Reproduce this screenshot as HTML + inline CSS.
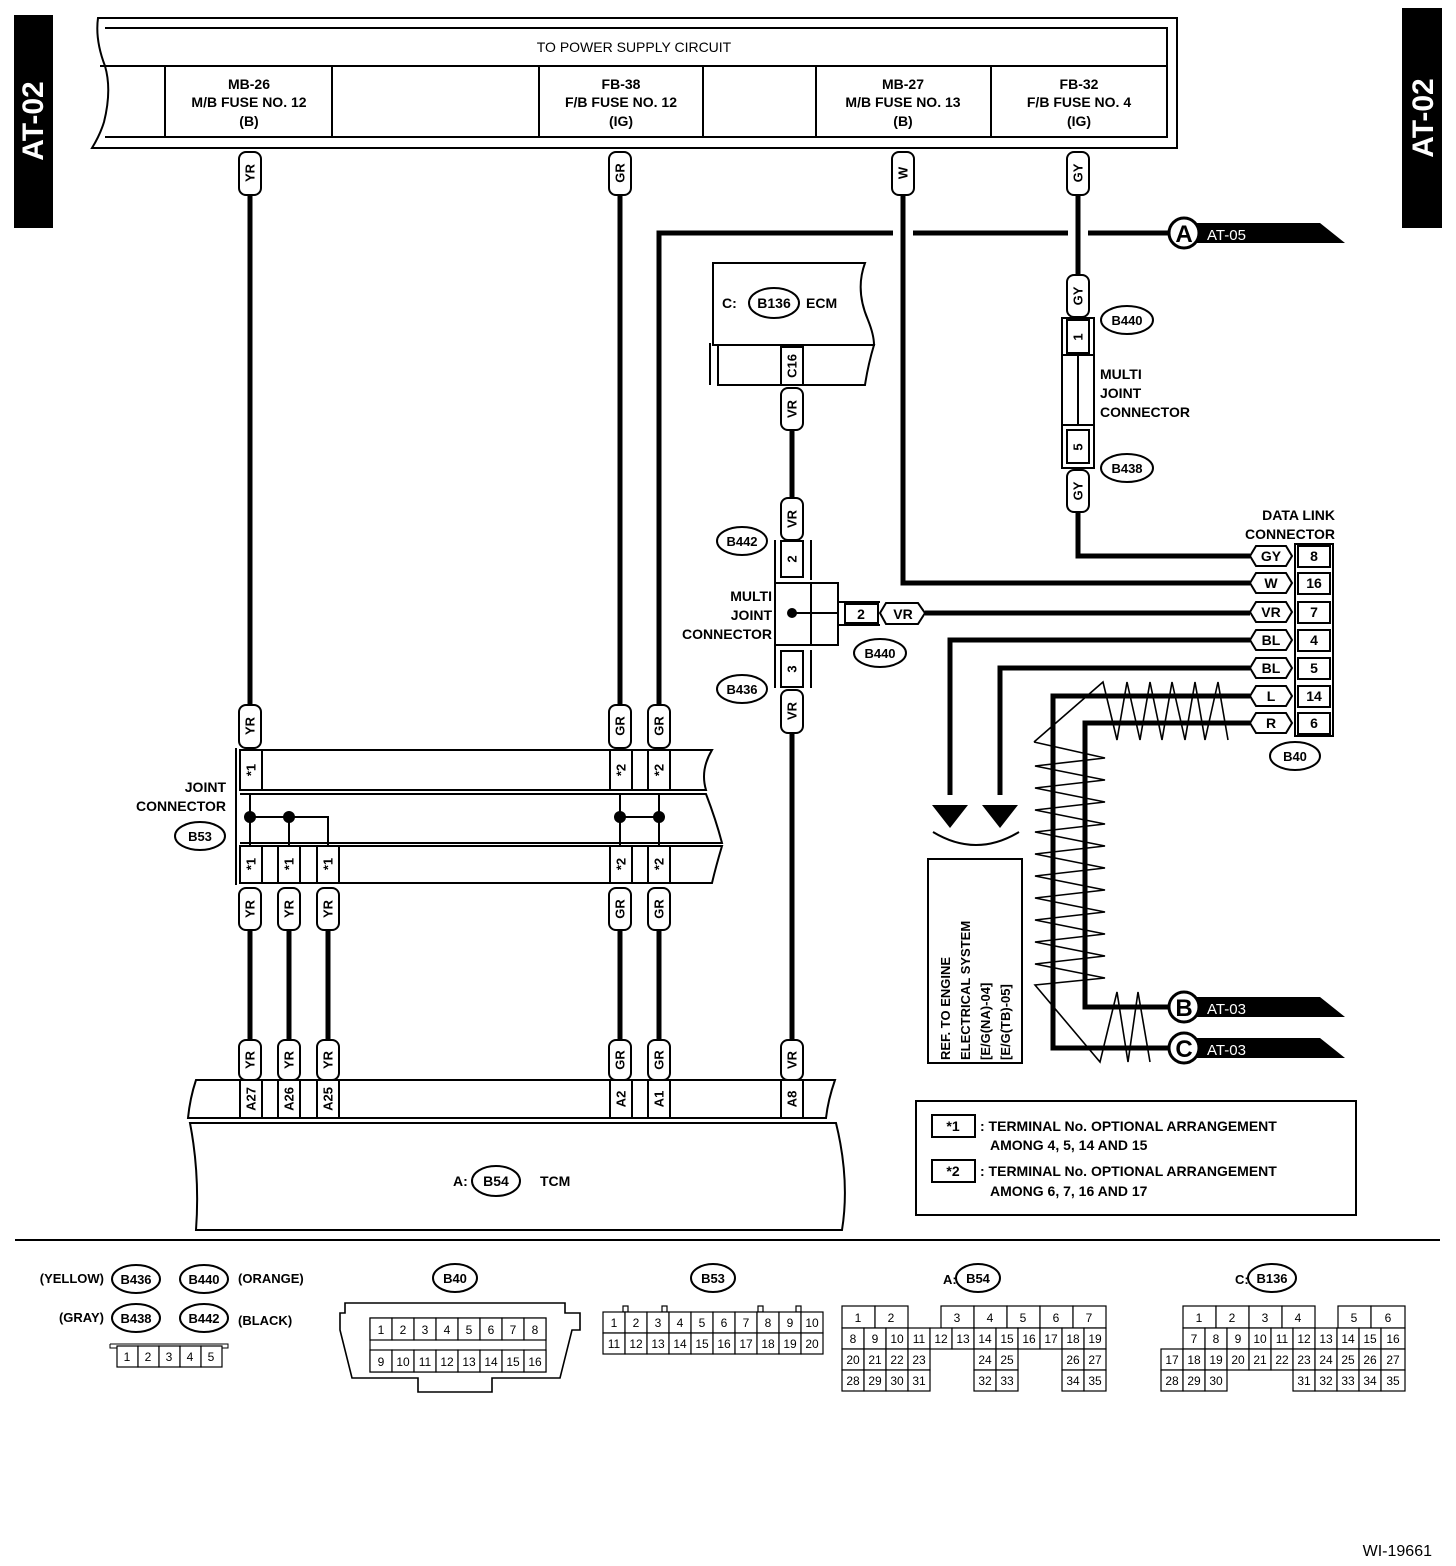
<!DOCTYPE html>
<html><head><meta charset="utf-8"><style>
html,body{margin:0;padding:0;background:#fff}
svg{display:block}
text{font-family:"Liberation Sans",sans-serif;font-weight:bold;fill:#000}
.t{font-size:14px}
.s{font-size:13px}
.c{text-anchor:middle}
.v{text-anchor:middle;dominant-baseline:central;font-size:13px}
.p{fill:#fff;stroke:#000;stroke-width:2}
.w{fill:none;stroke:#000;stroke-width:5}
.l{fill:none;stroke:#000;stroke-width:2}
.th{fill:none;stroke:#000;stroke-width:1.6}
.g rect{fill:#fff;stroke:#000;stroke-width:1.2}
.g text{font-weight:normal;font-size:12px;text-anchor:middle}
</style></head><body>
<svg width="1456" height="1566" viewBox="0 0 1456 1566" xmlns="http://www.w3.org/2000/svg">
<!-- side tabs -->
<rect x="14" y="15" width="39" height="213" fill="#000"/>
<text transform="translate(43,121) rotate(-90)" class="c" style="font-size:30px;fill:#fff">AT-02</text>
<rect x="1402" y="8" width="40" height="220" fill="#000"/>
<text transform="translate(1433,118) rotate(-90)" class="c" style="font-size:30px;fill:#fff">AT-02</text>

<!-- power supply box -->
<path class="l" d="M98,18 H1177 V148 H92 Q100,135 104,122 Q112,90 105,66 Q95,40 98,18 Z"/>
<path class="l" d="M105,28 H1167 V137 H105"/>
<line class="l" x1="100" y1="66" x2="1167" y2="66"/>
<line class="l" x1="165" y1="66" x2="165" y2="137"/>
<line class="l" x1="332" y1="66" x2="332" y2="137"/>
<line class="l" x1="539" y1="66" x2="539" y2="137"/>
<line class="l" x1="703" y1="66" x2="703" y2="137"/>
<line class="l" x1="816" y1="66" x2="816" y2="137"/>
<line class="l" x1="991" y1="66" x2="991" y2="137"/>
<text x="634" y="52" class="t c" style="font-weight:normal">TO POWER SUPPLY CIRCUIT</text>
<text x="249" y="89" class="t c">MB-26</text><text x="249" y="107" class="t c">M/B FUSE NO. 12</text><text x="249" y="126" class="t c">(B)</text>
<text x="621" y="89" class="t c">FB-38</text><text x="621" y="107" class="t c">F/B FUSE NO. 12</text><text x="621" y="126" class="t c">(IG)</text>
<text x="903" y="89" class="t c">MB-27</text><text x="903" y="107" class="t c">M/B FUSE NO. 13</text><text x="903" y="126" class="t c">(B)</text>
<text x="1079" y="89" class="t c">FB-32</text><text x="1079" y="107" class="t c">F/B FUSE NO. 4</text><text x="1079" y="126" class="t c">(IG)</text>

<!-- wires -->
<g class="w">
<path d="M250,195 V705"/>
<path d="M620,195 V705"/>
<path d="M659,705 V233 H893"/>
<path d="M913,233 H1068"/>
<path d="M1088,233 H1170"/>
<path d="M903,195 V583 H1250"/>
<path d="M1078,195 V275"/>
<path d="M1078,512 V556 H1250"/>
<path d="M792,430 V500"/>
<path d="M925,613 H1250"/>
<path d="M792,733 V1040"/>
<path d="M1250,640 H950 V795"/>
<path d="M1250,668 H1000 V795"/>
<path d="M1250,696 H1053 V1048 H1170"/>
<path d="M1250,723 H1085 V1007 H1170"/>
<path d="M250,930 V1040"/><path d="M289,930 V1040"/><path d="M328,930 V1040"/>
<path d="M620,930 V1040"/><path d="M659,930 V1040"/>
</g>
<!-- arrows -->
<polygon points="932,805 968,805 950,828"/>
<polygon points="982,805 1018,805 1000,828"/>
<path class="l" d="M933,832 Q976,858 1019,832"/>
<!-- REF box -->
<rect x="928" y="859" width="94" height="204" class="l"/>
<text transform="translate(950,1060) rotate(-90)" class="s">REF. TO ENGINE</text>
<text transform="translate(970,1060) rotate(-90)" class="s">ELECTRICAL SYSTEM</text>
<text transform="translate(990,1060) rotate(-90)" class="s">[E/G(NA)-04]</text>
<text transform="translate(1010,1060) rotate(-90)" class="s">[E/G(TB)-05]</text>

<!-- twist -->
<polyline class="th" points="1034,742 1103,682 1117,740 1127,682 1140,740 1150,682 1162,740 1172,682 1185,740 1195,682 1205,740 1218,682 1228,740"/>
<polyline class="th" points="1034,742 1105,758 1035,766 1105,780 1035,788 1105,802 1035,810 1105,824 1035,832 1105,846 1035,854 1105,868 1035,876 1105,890 1035,898 1105,912 1035,920 1105,934 1035,942 1105,956 1035,964 1105,978 1035,985 1100,1062 1117,992 1128,1062 1138,992 1150,1062"/>

<!-- A B C markers -->
<g>
<polygon points="1184,223 1320,223 1345,243 1184,243"/>
<circle cx="1184" cy="233" r="15" fill="#fff" stroke="#000" stroke-width="3"/>
<text x="1184" y="242" class="c" style="font-size:24px">A</text>
<text x="1207" y="240" style="font-size:15px;fill:#fff;font-weight:normal">AT-05</text>
<polygon points="1184,997 1320,997 1345,1017 1184,1017"/>
<circle cx="1184" cy="1007" r="15" fill="#fff" stroke="#000" stroke-width="3"/>
<text x="1184" y="1016" class="c" style="font-size:24px">B</text>
<text x="1207" y="1014" style="font-size:15px;fill:#fff;font-weight:normal">AT-03</text>
<polygon points="1184,1038 1320,1038 1345,1058 1184,1058"/>
<circle cx="1184" cy="1048" r="15" fill="#fff" stroke="#000" stroke-width="3"/>
<text x="1184" y="1057" class="c" style="font-size:24px">C</text>
<text x="1207" y="1055" style="font-size:15px;fill:#fff;font-weight:normal">AT-03</text>
</g>

<!-- vertical pills -->
<g>
<rect class="p" x="239" y="152" width="22" height="43" rx="7"/><text class="v" transform="translate(250,173) rotate(-90)">YR</text>
<rect class="p" x="609" y="152" width="22" height="43" rx="7"/><text class="v" transform="translate(620,173) rotate(-90)">GR</text>
<rect class="p" x="892" y="152" width="22" height="43" rx="7"/><text class="v" transform="translate(903,173) rotate(-90)">W</text>
<rect class="p" x="1067" y="152" width="22" height="43" rx="7"/><text class="v" transform="translate(1078,173) rotate(-90)">GY</text>
<rect class="p" x="1067" y="275" width="22" height="42" rx="7"/><text class="v" transform="translate(1078,296) rotate(-90)">GY</text>
<rect class="p" x="1067" y="470" width="22" height="42" rx="7"/><text class="v" transform="translate(1078,491) rotate(-90)">GY</text>
<rect class="p" x="781" y="388" width="22" height="42" rx="7"/><text class="v" transform="translate(792,409) rotate(-90)">VR</text>
<rect class="p" x="781" y="498" width="22" height="42" rx="7"/><text class="v" transform="translate(792,519) rotate(-90)">VR</text>
<rect class="p" x="781" y="690" width="22" height="43" rx="7"/><text class="v" transform="translate(792,711) rotate(-90)">VR</text>
<rect class="p" x="781" y="1040" width="22" height="40" rx="7"/><text class="v" transform="translate(792,1060) rotate(-90)">VR</text>
<rect class="p" x="239" y="705" width="22" height="43" rx="7"/><text class="v" transform="translate(250,726) rotate(-90)">YR</text>
<rect class="p" x="609" y="705" width="22" height="43" rx="7"/><text class="v" transform="translate(620,726) rotate(-90)">GR</text>
<rect class="p" x="648" y="705" width="22" height="43" rx="7"/><text class="v" transform="translate(659,726) rotate(-90)">GR</text>
<rect class="p" x="239" y="888" width="22" height="42" rx="7"/><text class="v" transform="translate(250,909) rotate(-90)">YR</text>
<rect class="p" x="278" y="888" width="22" height="42" rx="7"/><text class="v" transform="translate(289,909) rotate(-90)">YR</text>
<rect class="p" x="317" y="888" width="22" height="42" rx="7"/><text class="v" transform="translate(328,909) rotate(-90)">YR</text>
<rect class="p" x="609" y="888" width="22" height="42" rx="7"/><text class="v" transform="translate(620,909) rotate(-90)">GR</text>
<rect class="p" x="648" y="888" width="22" height="42" rx="7"/><text class="v" transform="translate(659,909) rotate(-90)">GR</text>
<rect class="p" x="239" y="1040" width="22" height="40" rx="7"/><text class="v" transform="translate(250,1060) rotate(-90)">YR</text>
<rect class="p" x="278" y="1040" width="22" height="40" rx="7"/><text class="v" transform="translate(289,1060) rotate(-90)">YR</text>
<rect class="p" x="317" y="1040" width="22" height="40" rx="7"/><text class="v" transform="translate(328,1060) rotate(-90)">YR</text>
<rect class="p" x="609" y="1040" width="22" height="40" rx="7"/><text class="v" transform="translate(620,1060) rotate(-90)">GR</text>
<rect class="p" x="648" y="1040" width="22" height="40" rx="7"/><text class="v" transform="translate(659,1060) rotate(-90)">GR</text>
</g>

<!-- B440/B438 multi joint (GY) -->
<rect class="l" x="1062" y="318" width="32" height="150"/>
<line class="l" x1="1062" y1="355" x2="1094" y2="355"/><line class="l" x1="1062" y1="425" x2="1094" y2="425"/>
<line class="l" x1="1078" y1="355" x2="1078" y2="425"/>
<rect class="p" x="1067" y="320" width="22" height="33"/><text class="v" transform="translate(1078,337) rotate(-90)">1</text>
<rect class="p" x="1067" y="430" width="22" height="33"/><text class="v" transform="translate(1078,447) rotate(-90)">5</text>
<ellipse class="l" cx="1127" cy="320" rx="26" ry="14" style="fill:#fff"/><text x="1127" y="325" class="s c">B440</text>
<ellipse class="l" cx="1127" cy="468" rx="26" ry="14" style="fill:#fff"/><text x="1127" y="473" class="s c">B438</text>
<text x="1100" y="379" class="t">MULTI</text><text x="1100" y="398" class="t">JOINT</text><text x="1100" y="417" class="t">CONNECTOR</text>

<!-- ECM -->
<path class="l" d="M713,263 H865 Q855,290 868,320 Q874,335 874,345 H713 Z"/>
<path class="l" d="M710,343 V385 M718,345 H874 Q868,365 865,385 H718 Z"/>
<rect class="p" x="781" y="347" width="22" height="38"/><text class="v" transform="translate(792,366) rotate(-90)">C16</text>
<text x="722" y="308" class="t">C:</text>
<ellipse class="l" cx="774" cy="303" rx="25" ry="15" style="fill:#fff"/><text x="774" y="308" class="t c">B136</text>
<text x="806" y="308" class="t">ECM</text>

<!-- VR multi joint -->
<path class="l" d="M775,540 V688 M811,540 V580"/>
<path class="l" d="M775,583 H838 V645 H775 M811,583 V645 M792,613 H838"/>
<path class="l" d="M811,650 V688 M838,602 H880 M838,625 H880"/>
<rect class="p" x="781" y="541" width="22" height="36"/><text class="v" transform="translate(792,559) rotate(-90)">2</text>
<rect class="p" x="781" y="651" width="22" height="36"/><text class="v" transform="translate(792,669) rotate(-90)">3</text>
<circle cx="792" cy="613" r="5"/>
<rect class="p" x="845" y="604" width="33" height="19"/><text x="861" y="619" class="t c">2</text>
<path class="p" d="M886,603 H918 L925,613 L918,624 H886 L880,613 Z"/><text x="903" y="619" class="t c">VR</text>
<ellipse class="l" cx="742" cy="541" rx="25" ry="14" style="fill:#fff"/><text x="742" y="546" class="s c">B442</text>
<ellipse class="l" cx="742" cy="689" rx="25" ry="14" style="fill:#fff"/><text x="742" y="694" class="s c">B436</text>
<ellipse class="l" cx="880" cy="653" rx="26" ry="14" style="fill:#fff"/><text x="880" y="658" class="s c">B440</text>
<text x="772" y="601" class="t" text-anchor="end">MULTI</text><text x="772" y="620" class="t" text-anchor="end">JOINT</text><text x="772" y="639" class="t" text-anchor="end">CONNECTOR</text>

<!-- Data link connector -->
<text x="1335" y="520" class="t" text-anchor="end">DATA LINK</text>
<text x="1335" y="539" class="t" text-anchor="end">CONNECTOR</text>
<g>
<path class="p" d="M1256,546 H1286 L1292,556 L1286,566 H1256 L1250,556 Z"/><text x="1271" y="561" class="t c">GY</text>
<path class="p" d="M1256,573 H1286 L1292,583 L1286,593 H1256 L1250,583 Z"/><text x="1271" y="588" class="t c">W</text>
<path class="p" d="M1256,602 H1286 L1292,612 L1286,622 H1256 L1250,612 Z"/><text x="1271" y="617" class="t c">VR</text>
<path class="p" d="M1256,630 H1286 L1292,640 L1286,650 H1256 L1250,640 Z"/><text x="1271" y="645" class="t c">BL</text>
<path class="p" d="M1256,658 H1286 L1292,668 L1286,678 H1256 L1250,668 Z"/><text x="1271" y="673" class="t c">BL</text>
<path class="p" d="M1256,686 H1286 L1292,696 L1286,706 H1256 L1250,696 Z"/><text x="1271" y="701" class="t c">L</text>
<path class="p" d="M1256,713 H1286 L1292,723 L1286,733 H1256 L1250,723 Z"/><text x="1271" y="728" class="t c">R</text>
<rect class="l" x="1295" y="544" width="38" height="192"/>
<rect class="p" x="1298" y="546" width="32" height="21"/><text x="1314" y="561" class="t c">8</text>
<rect class="p" x="1298" y="573" width="32" height="21"/><text x="1314" y="588" class="t c">16</text>
<rect class="p" x="1298" y="602" width="32" height="21"/><text x="1314" y="617" class="t c">7</text>
<rect class="p" x="1298" y="630" width="32" height="21"/><text x="1314" y="645" class="t c">4</text>
<rect class="p" x="1298" y="658" width="32" height="21"/><text x="1314" y="673" class="t c">5</text>
<rect class="p" x="1298" y="686" width="32" height="21"/><text x="1314" y="701" class="t c">14</text>
<rect class="p" x="1298" y="713" width="32" height="21"/><text x="1314" y="728" class="t c">6</text>
</g>
<ellipse class="l" cx="1295" cy="756" rx="25" ry="14" style="fill:#fff"/><text x="1295" y="761" class="s c">B40</text>

<!-- Joint connector B53 -->
<path class="l" d="M236,748 V885"/>
<path class="l" d="M240,750 H712 Q700,770 706,790 H240 Z"/>
<path class="l" d="M240,794 H706 Q716,820 722,843 H240"/>
<path class="l" d="M240,846 H722 Q716,866 712,883 H240 Z"/>
<g>
<rect class="p" x="240" y="750" width="22" height="40"/><text class="v" transform="translate(251,770) rotate(-90)">*1</text>
<rect class="p" x="610" y="750" width="22" height="40"/><text class="v" transform="translate(621,770) rotate(-90)">*2</text>
<rect class="p" x="648" y="750" width="22" height="40"/><text class="v" transform="translate(659,770) rotate(-90)">*2</text>
<rect class="p" x="240" y="846" width="22" height="37"/><text class="v" transform="translate(251,864) rotate(-90)">*1</text>
<rect class="p" x="278" y="846" width="22" height="37"/><text class="v" transform="translate(289,864) rotate(-90)">*1</text>
<rect class="p" x="317" y="846" width="22" height="37"/><text class="v" transform="translate(328,864) rotate(-90)">*1</text>
<rect class="p" x="610" y="846" width="22" height="37"/><text class="v" transform="translate(621,864) rotate(-90)">*2</text>
<rect class="p" x="648" y="846" width="22" height="37"/><text class="v" transform="translate(659,864) rotate(-90)">*2</text>
</g>
<path class="l" d="M250,794 V846 M289,817 V846 M250,817 H328 V846 M620,794 V846 M659,794 V846 M620,817 H659"/>
<circle cx="250" cy="817" r="6"/><circle cx="289" cy="817" r="6"/><circle cx="620" cy="817" r="6"/><circle cx="659" cy="817" r="6"/>
<text x="226" y="792" class="t" text-anchor="end">JOINT</text>
<text x="226" y="811" class="t" text-anchor="end">CONNECTOR</text>
<ellipse class="l" cx="200" cy="836" rx="25" ry="14" style="fill:#fff"/><text x="200" y="841" class="s c">B53</text>

<!-- TCM -->
<path class="l" d="M196,1080 H835 Q828,1100 826,1118 H188 Q190,1098 196,1080 Z"/>
<path class="l" d="M190,1123 H836 Q850,1180 842,1230 H196 Q200,1175 190,1123 Z"/>
<g>
<rect class="p" x="240" y="1080" width="22" height="38"/><text class="v" transform="translate(251,1099) rotate(-90)">A27</text>
<rect class="p" x="278" y="1080" width="22" height="38"/><text class="v" transform="translate(289,1099) rotate(-90)">A26</text>
<rect class="p" x="317" y="1080" width="22" height="38"/><text class="v" transform="translate(328,1099) rotate(-90)">A25</text>
<rect class="p" x="610" y="1080" width="22" height="38"/><text class="v" transform="translate(621,1099) rotate(-90)">A2</text>
<rect class="p" x="648" y="1080" width="22" height="38"/><text class="v" transform="translate(659,1099) rotate(-90)">A1</text>
<rect class="p" x="781" y="1080" width="22" height="38"/><text class="v" transform="translate(792,1099) rotate(-90)">A8</text>
</g>
<text x="453" y="1186" class="t">A:</text>
<ellipse class="l" cx="496" cy="1181" rx="24" ry="15" style="fill:#fff"/><text x="496" y="1186" class="t c">B54</text>
<text x="540" y="1186" class="t">TCM</text>

<!-- legend -->
<rect class="l" x="916" y="1101" width="440" height="114"/>
<rect class="l" x="932" y="1115" width="43" height="22"/><text x="953" y="1131" class="t c">*1</text>
<text x="980" y="1131" class="t">: TERMINAL No. OPTIONAL ARRANGEMENT</text>
<text x="990" y="1150" class="t">AMONG 4, 5, 14 AND 15</text>
<rect class="l" x="932" y="1160" width="43" height="22"/><text x="953" y="1176" class="t c">*2</text>
<text x="980" y="1176" class="t">: TERMINAL No. OPTIONAL ARRANGEMENT</text>
<text x="990" y="1196" class="t">AMONG 6, 7, 16 AND 17</text>

<line x1="15" y1="1240" x2="1440" y2="1240" stroke="#000" stroke-width="2"/>

<!-- bottom connectors -->
<text x="104" y="1283" class="s" text-anchor="end">(YELLOW)</text>
<ellipse class="l" cx="136" cy="1279" rx="24" ry="14"/><text x="136" y="1284" class="s c">B436</text>
<ellipse class="l" cx="204" cy="1279" rx="24" ry="14"/><text x="204" y="1284" class="s c">B440</text>
<text x="238" y="1283" class="s">(ORANGE)</text>
<text x="104" y="1322" class="s" text-anchor="end">(GRAY)</text>
<ellipse class="l" cx="136" cy="1318" rx="24" ry="14"/><text x="136" y="1323" class="s c">B438</text>
<ellipse class="l" cx="204" cy="1318" rx="24" ry="14"/><text x="204" y="1323" class="s c">B442</text>
<text x="238" y="1325" class="s">(BLACK)</text>
<g class="g">
<path d="M110,1344 H228 V1348 H222" fill="none" stroke="#000"/>
<path d="M110,1344 V1348 H117" fill="none" stroke="#000"/>
<rect x="117" y="1346" width="21" height="21"/><rect x="138" y="1346" width="21" height="21"/><rect x="159" y="1346" width="21" height="21"/><rect x="180" y="1346" width="21" height="21"/><rect x="201" y="1346" width="21" height="21"/>
<text x="127" y="1361">1</text><text x="148" y="1361">2</text><text x="169" y="1361">3</text><text x="190" y="1361">4</text><text x="211" y="1361">5</text>
</g>

<ellipse class="l" cx="455" cy="1278" rx="22" ry="14"/><text x="455" y="1283" class="s c">B40</text>
<path class="l" d="M345,1303 H565 V1313 H580 V1330 H572 L560,1378 H492 V1392 H418 V1378 H352 L340,1330 V1313 H345 Z" style="stroke-width:1.6"/>
<g class="g">
<rect x="370" y="1318" width="176" height="54" fill="#fff" stroke="#000"/>
<rect x="370" y="1318" width="22" height="22"/><rect x="392" y="1318" width="22" height="22"/><rect x="414" y="1318" width="22" height="22"/><rect x="436" y="1318" width="22" height="22"/><rect x="458" y="1318" width="22" height="22"/><rect x="480" y="1318" width="22" height="22"/><rect x="502" y="1318" width="22" height="22"/><rect x="524" y="1318" width="22" height="22"/>
<text x="381" y="1334">1</text><text x="403" y="1334">2</text><text x="425" y="1334">3</text><text x="447" y="1334">4</text><text x="469" y="1334">5</text><text x="491" y="1334">6</text><text x="513" y="1334">7</text><text x="535" y="1334">8</text>
<rect x="370" y="1350" width="22" height="22"/><rect x="392" y="1350" width="22" height="22"/><rect x="414" y="1350" width="22" height="22"/><rect x="436" y="1350" width="22" height="22"/><rect x="458" y="1350" width="22" height="22"/><rect x="480" y="1350" width="22" height="22"/><rect x="502" y="1350" width="22" height="22"/><rect x="524" y="1350" width="22" height="22"/>
<text x="381" y="1366">9</text><text x="403" y="1366">10</text><text x="425" y="1366">11</text><text x="447" y="1366">12</text><text x="469" y="1366">13</text><text x="491" y="1366">14</text><text x="513" y="1366">15</text><text x="535" y="1366">16</text>
</g>

<ellipse class="l" cx="713" cy="1278" rx="22" ry="14"/><text x="713" y="1283" class="s c">B53</text>
<g class="g">
<rect x="623" y="1306" width="5" height="6"/><rect x="662" y="1306" width="5" height="6"/><rect x="758" y="1306" width="5" height="6"/><rect x="796" y="1306" width="5" height="6"/>
<rect x="603" y="1312" width="22" height="21"/><rect x="625" y="1312" width="22" height="21"/><rect x="647" y="1312" width="22" height="21"/><rect x="669" y="1312" width="22" height="21"/><rect x="691" y="1312" width="22" height="21"/><rect x="713" y="1312" width="22" height="21"/><rect x="735" y="1312" width="22" height="21"/><rect x="757" y="1312" width="22" height="21"/><rect x="779" y="1312" width="22" height="21"/><rect x="801" y="1312" width="22" height="21"/>
<text x="614" y="1327">1</text><text x="636" y="1327">2</text><text x="658" y="1327">3</text><text x="680" y="1327">4</text><text x="702" y="1327">5</text><text x="724" y="1327">6</text><text x="746" y="1327">7</text><text x="768" y="1327">8</text><text x="790" y="1327">9</text><text x="812" y="1327">10</text>
<rect x="603" y="1333" width="22" height="21"/><rect x="625" y="1333" width="22" height="21"/><rect x="647" y="1333" width="22" height="21"/><rect x="669" y="1333" width="22" height="21"/><rect x="691" y="1333" width="22" height="21"/><rect x="713" y="1333" width="22" height="21"/><rect x="735" y="1333" width="22" height="21"/><rect x="757" y="1333" width="22" height="21"/><rect x="779" y="1333" width="22" height="21"/><rect x="801" y="1333" width="22" height="21"/>
<text x="614" y="1348">11</text><text x="636" y="1348">12</text><text x="658" y="1348">13</text><text x="680" y="1348">14</text><text x="702" y="1348">15</text><text x="724" y="1348">16</text><text x="746" y="1348">17</text><text x="768" y="1348">18</text><text x="790" y="1348">19</text><text x="812" y="1348">20</text>
</g>

<text x="943" y="1284" class="s">A:</text>
<ellipse class="l" cx="978" cy="1278" rx="22" ry="14"/><text x="978" y="1283" class="s c">B54</text>
<g class="g">
<rect x="842" y="1306" width="33" height="22"/><rect x="875" y="1306" width="33" height="22"/>
<rect x="941" y="1306" width="33" height="22"/><rect x="974" y="1306" width="33" height="22"/><rect x="1007" y="1306" width="33" height="22"/><rect x="1040" y="1306" width="33" height="22"/><rect x="1073" y="1306" width="33" height="22"/>
<text x="858" y="1322">1</text><text x="891" y="1322">2</text><text x="957" y="1322">3</text><text x="990" y="1322">4</text><text x="1023" y="1322">5</text><text x="1056" y="1322">6</text><text x="1089" y="1322">7</text>
<rect x="842" y="1328" width="22" height="21"/><rect x="864" y="1328" width="22" height="21"/><rect x="886" y="1328" width="22" height="21"/><rect x="908" y="1328" width="22" height="21"/><rect x="930" y="1328" width="22" height="21"/><rect x="952" y="1328" width="22" height="21"/><rect x="974" y="1328" width="22" height="21"/><rect x="996" y="1328" width="22" height="21"/><rect x="1018" y="1328" width="22" height="21"/><rect x="1040" y="1328" width="22" height="21"/><rect x="1062" y="1328" width="22" height="21"/><rect x="1084" y="1328" width="22" height="21"/>
<text x="853" y="1343">8</text><text x="875" y="1343">9</text><text x="897" y="1343">10</text><text x="919" y="1343">11</text><text x="941" y="1343">12</text><text x="963" y="1343">13</text><text x="985" y="1343">14</text><text x="1007" y="1343">15</text><text x="1029" y="1343">16</text><text x="1051" y="1343">17</text><text x="1073" y="1343">18</text><text x="1095" y="1343">19</text>
<rect x="842" y="1349" width="22" height="21"/><rect x="864" y="1349" width="22" height="21"/><rect x="886" y="1349" width="22" height="21"/><rect x="908" y="1349" width="22" height="21"/><rect x="974" y="1349" width="22" height="21"/><rect x="996" y="1349" width="22" height="21"/><rect x="1062" y="1349" width="22" height="21"/><rect x="1084" y="1349" width="22" height="21"/>
<text x="853" y="1364">20</text><text x="875" y="1364">21</text><text x="897" y="1364">22</text><text x="919" y="1364">23</text><text x="985" y="1364">24</text><text x="1007" y="1364">25</text><text x="1073" y="1364">26</text><text x="1095" y="1364">27</text>
<rect x="842" y="1370" width="22" height="21"/><rect x="864" y="1370" width="22" height="21"/><rect x="886" y="1370" width="22" height="21"/><rect x="908" y="1370" width="22" height="21"/><rect x="974" y="1370" width="22" height="21"/><rect x="996" y="1370" width="22" height="21"/><rect x="1062" y="1370" width="22" height="21"/><rect x="1084" y="1370" width="22" height="21"/>
<text x="853" y="1385">28</text><text x="875" y="1385">29</text><text x="897" y="1385">30</text><text x="919" y="1385">31</text><text x="985" y="1385">32</text><text x="1007" y="1385">33</text><text x="1073" y="1385">34</text><text x="1095" y="1385">35</text>
</g>

<text x="1235" y="1284" class="s">C:</text>
<ellipse class="l" cx="1272" cy="1278" rx="24" ry="14"/><text x="1272" y="1283" class="s c">B136</text>
<g class="g">
<rect x="1183" y="1306" width="33" height="22"/><rect x="1216" y="1306" width="33" height="22"/><rect x="1249" y="1306" width="33" height="22"/><rect x="1282" y="1306" width="33" height="22"/><rect x="1338" y="1306" width="33" height="22"/><rect x="1371" y="1306" width="34" height="22"/>
<text x="1199" y="1322">1</text><text x="1232" y="1322">2</text><text x="1265" y="1322">3</text><text x="1298" y="1322">4</text><text x="1354" y="1322">5</text><text x="1388" y="1322">6</text>
<rect x="1183" y="1328" width="22" height="21"/><rect x="1205" y="1328" width="22" height="21"/><rect x="1227" y="1328" width="22" height="21"/><rect x="1249" y="1328" width="22" height="21"/><rect x="1271" y="1328" width="22" height="21"/><rect x="1293" y="1328" width="22" height="21"/><rect x="1315" y="1328" width="22" height="21"/><rect x="1337" y="1328" width="22" height="21"/><rect x="1359" y="1328" width="22" height="21"/><rect x="1381" y="1328" width="24" height="21"/>
<text x="1194" y="1343">7</text><text x="1216" y="1343">8</text><text x="1238" y="1343">9</text><text x="1260" y="1343">10</text><text x="1282" y="1343">11</text><text x="1304" y="1343">12</text><text x="1326" y="1343">13</text><text x="1348" y="1343">14</text><text x="1370" y="1343">15</text><text x="1393" y="1343">16</text>
<rect x="1161" y="1349" width="22" height="21"/><rect x="1183" y="1349" width="22" height="21"/><rect x="1205" y="1349" width="22" height="21"/><rect x="1227" y="1349" width="22" height="21"/><rect x="1249" y="1349" width="22" height="21"/><rect x="1271" y="1349" width="22" height="21"/><rect x="1293" y="1349" width="22" height="21"/><rect x="1315" y="1349" width="22" height="21"/><rect x="1337" y="1349" width="22" height="21"/><rect x="1359" y="1349" width="22" height="21"/><rect x="1381" y="1349" width="24" height="21"/>
<text x="1172" y="1364">17</text><text x="1194" y="1364">18</text><text x="1216" y="1364">19</text><text x="1238" y="1364">20</text><text x="1260" y="1364">21</text><text x="1282" y="1364">22</text><text x="1304" y="1364">23</text><text x="1326" y="1364">24</text><text x="1348" y="1364">25</text><text x="1370" y="1364">26</text><text x="1393" y="1364">27</text>
<rect x="1161" y="1370" width="22" height="21"/><rect x="1183" y="1370" width="22" height="21"/><rect x="1205" y="1370" width="22" height="21"/><rect x="1293" y="1370" width="22" height="21"/><rect x="1315" y="1370" width="22" height="21"/><rect x="1337" y="1370" width="22" height="21"/><rect x="1359" y="1370" width="22" height="21"/><rect x="1381" y="1370" width="24" height="21"/>
<text x="1172" y="1385">28</text><text x="1194" y="1385">29</text><text x="1216" y="1385">30</text><text x="1304" y="1385">31</text><text x="1326" y="1385">32</text><text x="1348" y="1385">33</text><text x="1370" y="1385">34</text><text x="1393" y="1385">35</text>
</g>

<text x="1432" y="1556" style="font-size:16px;font-weight:normal" text-anchor="end">WI-19661</text>
</svg>
</body></html>
